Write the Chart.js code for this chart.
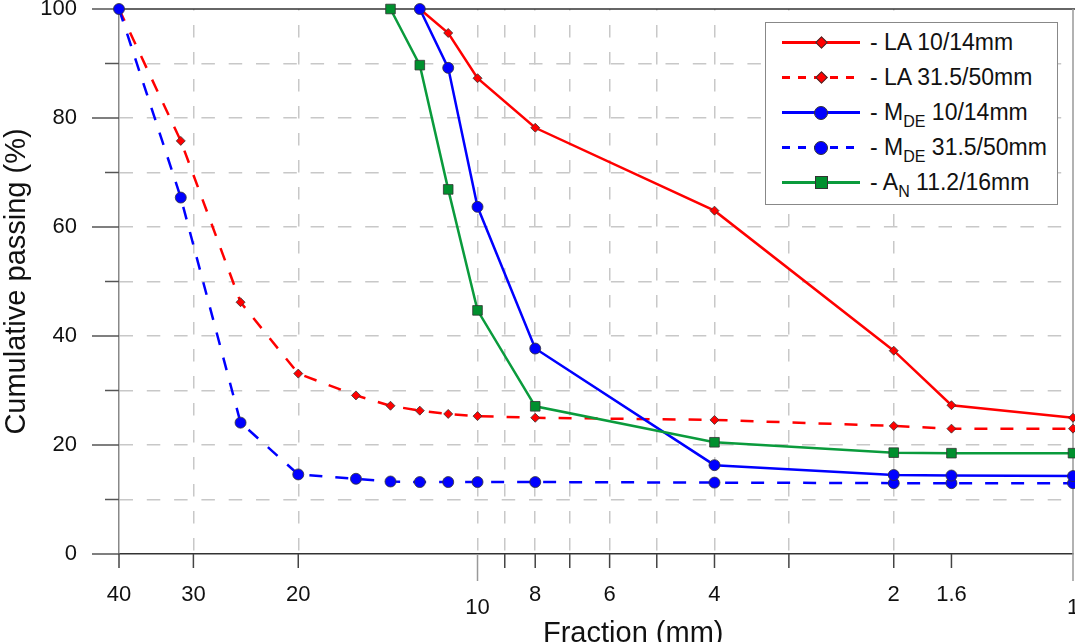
<!DOCTYPE html>
<html>
<head>
<meta charset="utf-8">
<script src="https://cdn.jsdelivr.net/npm/chart.js@4.4.0/dist/chart.umd.min.js"></script>
<style>
  html, body { margin: 0; padding: 0; background: #fff; }
  #wrap { position: relative; width: 1075px; height: 642px; overflow: hidden; font-family: "Liberation Sans", Arial, sans-serif; }
  #chart { position: absolute; left: 0; top: 0; }
  #xTitle { position: absolute; left: 543px; top: 618px; font-size: 29px; line-height: 29px; color: #111; white-space: nowrap; }
  #legend { position: absolute; left: 765px; top: 22px; width: 293px; height: 183px; box-sizing: border-box; border: 1.5px solid #888; background: #fff; }
  .row { position: absolute; left: 0; width: 100%; height: 35px; }
  .sample { position: absolute; left: 16px; top: 16px; width: 78px; height: 2.5px; }
  .marker { position: absolute; box-sizing: border-box; border: 1px solid #333; }
  .label { position: absolute; left: 104px; top: 0; font-size: 23px; line-height: 35px; color: #111; white-space: nowrap; }
  .label sub { font-size: 16px; line-height: 0; vertical-align: baseline; position: relative; top: 7px; }
</style>
</head>
<body>
<div id="wrap">
  <canvas id="chart" width="1075" height="642"></canvas>
  <div id="legend"></div>
  <div id="xTitle">Fraction (mm)</div>
</div>
<script>
// sieve sizes (mm)
const sieveSizes = [40, 31.5, 25, 20, 16, 14, 12.5, 11.2, 10, 8, 4, 2, 1.6, 1];
const sieveSizesFine = [12.5, 11.2, 10, 8, 4, 2, 1.6, 1];
const sieveSizesAN = [14, 12.5, 11.2, 10, 8, 4, 2, 1.6, 1];

// cumulative passing (%)
const la1014 = [100, 95.6, 87.3, 78.2, 63.0, 37.3, 27.3, 25.0];
const la31550 = [100, 75.8, 46.2, 33.1, 29.1, 27.2, 26.3, 25.7, 25.3, 25.0, 24.6, 23.5, 23.0, 23.0];
const mde1014 = [100, 89.2, 63.7, 37.7, 16.3, 14.5, 14.4, 14.3];
const mde31550 = [100, 65.4, 24.1, 14.6, 13.8, 13.3, 13.2, 13.2, 13.2, 13.2, 13.1, 13.0, 13.0, 13.0];
const an11216 = [100, 89.7, 66.9, 44.7, 27.1, 20.5, 18.6, 18.5, 18.5];

const xTicks = [40, 30, 20, 10, 9, 8, 7, 6, 5, 4, 3, 2, 1.6, 1];
const xTickLabels = ['40', '30', '20', '10', '', '8', '', '6', '', '4', '', '2', '1.6', '1'];
const xGridAt = [30, 20, 10, 9, 8, 7, 6, 5, 4, 3, 2];
const yTickLabels = ['0', '20', '40', '60', '80', '100'];

const seriesLabels = ['- LA 10/14mm', '- LA 31.5/50mm', '- M<sub>DE</sub> 10/14mm', '- M<sub>DE</sub> 31.5/50mm', '- A<sub>N</sub> 11.2/16mm'];

const FONT = '"Liberation Sans", Arial, sans-serif';
const RED = '#ff0000', BLUE = '#0000ff', GREEN = '#0a9b3c', GREEN_FILL = '#00902e';

function pts(xs, ys) {
  return xs.map((x, i) => ({x: x, y: ys[i]}));
}

function serie(label, data, color, fill, style, radius, dashed, order) {
  return {
    label: label,
    data: data,
    borderColor: color,
    backgroundColor: fill,
    borderWidth: 2.5,
    borderDash: dashed ? [13, 13] : [],
    pointStyle: style,
    pointRadius: radius,
    pointBackgroundColor: fill,
    pointBorderColor: '#333',
    pointBorderWidth: 0.8,
    tension: 0,
    clip: false,
    order: order
  };
}

// ticks and frame the library doesn't draw the way the original does
const frameAndTicks = {
  id: 'frameAndTicks',
  beforeDatasetsDraw(chart) {
    const {ctx, chartArea: a, scales: {x, y}} = chart;
    const seg = (x1, y1, x2, y2, color) => {
      ctx.strokeStyle = color;
      ctx.beginPath();
      ctx.moveTo(x1, y1);
      ctx.lineTo(x2, y2);
      ctx.stroke();
    };
    ctx.save();
    ctx.lineWidth = 1.5;
    seg(a.left, a.top, chart.width, a.top, '#333');
    seg(a.right, a.top, a.right, a.bottom + 27, '#999');
    y.ticks.forEach(t => {
      const py = y.getPixelForValue(t.value);
      const major = yTickLabels.includes(String(t.value));
      seg(a.left - (major ? 27 : 14), py, a.left, py, '#555');
    });
    x.ticks.forEach(t => {
      if (t.value === 1) return;
      const px = x.getPixelForValue(t.value);
      const decade = t.value === 10;
      seg(px, a.bottom, px, a.bottom + (decade ? 27 : 14), decade ? '#999' : '#444');
    });
    ctx.restore();
  }
};

new Chart(document.getElementById('chart'), {
  type: 'line',
  data: {
    datasets: [
      serie('LA 10/14mm', pts(sieveSizesFine, la1014), RED, RED, 'rectRot', 4.5, false, 3),
      serie('LA 31.5/50mm', pts(sieveSizes, la31550), RED, RED, 'rectRot', 4.5, true, 3),
      serie('MDE 10/14mm', pts(sieveSizesFine, mde1014), BLUE, BLUE, 'circle', 5.5, false, 2),
      serie('MDE 31.5/50mm', pts(sieveSizes, mde31550), BLUE, BLUE, 'circle', 5.5, true, 2),
      serie('AN 11.2/16mm', pts(sieveSizesAN, an11216), GREEN, GREEN_FILL, 'rect', 6.8, false, 1)
    ]
  },
  options: {
    responsive: false,
    animation: false,
    layout: { autoPadding: false, padding: { top: 9, right: 2, left: 0, bottom: 0 } },
    plugins: { legend: { display: false }, tooltip: { enabled: false } },
    scales: {
      x: {
        type: 'logarithmic',
        reverse: true,
        min: 1,
        max: 40,
        afterBuildTicks: s => { s.ticks = xTicks.map(v => ({value: v})); },
        afterFit: s => { s.height = 88; s.paddingLeft = 0; s.paddingRight = 0; },
        grid: {
          drawTicks: false,
          lineWidth: 1.5,
          color: c => (c.tick && xGridAt.includes(c.tick.value)) ? '#c8c8c8' : 'transparent'
        },
        border: { color: '#333', width: 1.5, dash: [12.5, 14.5], dashOffset: 11 },
        ticks: {
          autoSkip: false,
          maxRotation: 0,
          padding: 34.5,
          color: '#111',
          font: { family: FONT, size: 22, lineHeight: '13px' },
          callback: v => {
            const lbl = xTickLabels[xTicks.indexOf(v)];
            return (v === 10 || v === 1) ? ['', lbl] : lbl;
          }
        }
      },
      y: {
        min: 0,
        max: 100,
        afterFit: s => { s.width = 119; s.paddingTop = 0; s.paddingBottom = 0; },
        grid: {
          drawTicks: false,
          lineWidth: 1.5,
          color: c => (c.tick && c.tick.value > 0 && c.tick.value < 100) ? '#c8c8c8' : 'transparent'
        },
        border: { color: '#888', width: 1.5, dash: [13.5, 13.8] },
        ticks: {
          stepSize: 10,
          autoSkip: false,
          padding: 42,
          color: '#111',
          font: { family: FONT, size: 22 },
          callback: v => yTickLabels.includes(String(v)) ? String(v) : ''
        },
        title: {
          display: true,
          text: 'Cumulative passing (%)',
          color: '#111',
          font: { family: FONT, size: 29, lineHeight: 1.2 },
          padding: 0
        }
      }
    }
  },
  plugins: [frameAndTicks]
});

// html legend, so the subscripts stay real text
const legendStyles = [
  {color: RED, fill: RED, shape: 'diamond', dashed: false},
  {color: RED, fill: RED, shape: 'diamond', dashed: true},
  {color: BLUE, fill: BLUE, shape: 'circle', dashed: false},
  {color: BLUE, fill: BLUE, shape: 'circle', dashed: true},
  {color: GREEN, fill: GREEN_FILL, shape: 'square', dashed: false}
];
const legend = document.getElementById('legend');
seriesLabels.forEach((txt, i) => {
  const st = legendStyles[i];
  const row = document.createElement('div');
  row.className = 'row';
  row.style.top = (2 + i * 35) + 'px';

  const sample = document.createElement('div');
  sample.className = 'sample';
  sample.style.background = st.dashed
    ? `repeating-linear-gradient(to right, ${st.color} 0 8px, transparent 8px 16px)`
    : st.color;
  row.appendChild(sample);

  const m = document.createElement('div');
  m.className = 'marker';
  m.style.background = st.fill;
  let size = st.shape === 'diamond' ? 9 : (st.shape === 'circle' ? 14 : 13);
  m.style.width = size + 'px';
  m.style.height = size + 'px';
  m.style.left = (55 - size / 2) + 'px';
  m.style.top = (17.5 - size / 2) + 'px';
  if (st.shape === 'diamond') m.style.transform = 'rotate(45deg)';
  if (st.shape === 'circle') m.style.borderRadius = '50%';
  row.appendChild(m);

  const lab = document.createElement('div');
  lab.className = 'label';
  lab.innerHTML = txt;
  row.appendChild(lab);

  legend.appendChild(row);
});
</script>
</body>
</html>
